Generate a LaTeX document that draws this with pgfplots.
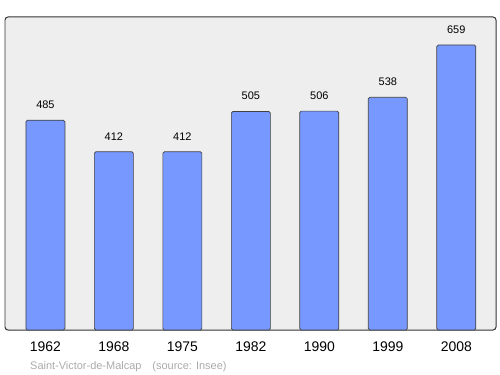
\documentclass[border=0pt]{standalone}
\usepackage{pgfplots}
\pgfplotsset{compat=1.18}
\usepackage{fontspec}
\setmainfont{Liberation Sans}
\definecolor{bgc}{HTML}{EEEEEE}
\definecolor{barc}{HTML}{7799FF}
\definecolor{srcc}{HTML}{AAAAAA}
\begin{document}
\begin{tikzpicture}[x=1bp,y=1bp]
\path[use as bounding box] (0,0) rectangle (500,374);
\begin{axis}[
  at={(5bp,44bp)}, anchor=south west,
  scale only axis, width=491bp, height=313bp,
  xmin=-0.59, xmax=6.58, ymin=0, ymax=723.7,
  axis background/.style={fill=bgc},
  axis line style={draw=black!80, line width=1pt, rounded corners=3bp},
  xtick=data, xticklabels={1962,1968,1975,1982,1990,1999,2008},
  xticklabel style={font=\fontsize{14}{16}\selectfont, yshift=-8bp},
  major tick length=0pt,
  ytick=\empty,
  nodes near coords,
  nodes near coords style={font=\fontsize{11}{13}\selectfont, yshift=8bp},
  /pgf/number format/assume math mode=true,
]
\addplot[ybar, bar width=39bp, fill=barc, draw=black!75, line width=0.7pt, rounded corners=1.5bp]
 coordinates {(0,485) (1,412) (2,412) (3,505) (4,506) (5,538) (6,659)};
\end{axis}
\node[anchor=base west, text=srcc, font=\fontsize{11}{13}\selectfont, inner sep=0pt] at (30bp,5bp) {Saint-Victor-de-Malcap\hspace{11bp}(source: Insee)};
\end{tikzpicture}
\end{document}
